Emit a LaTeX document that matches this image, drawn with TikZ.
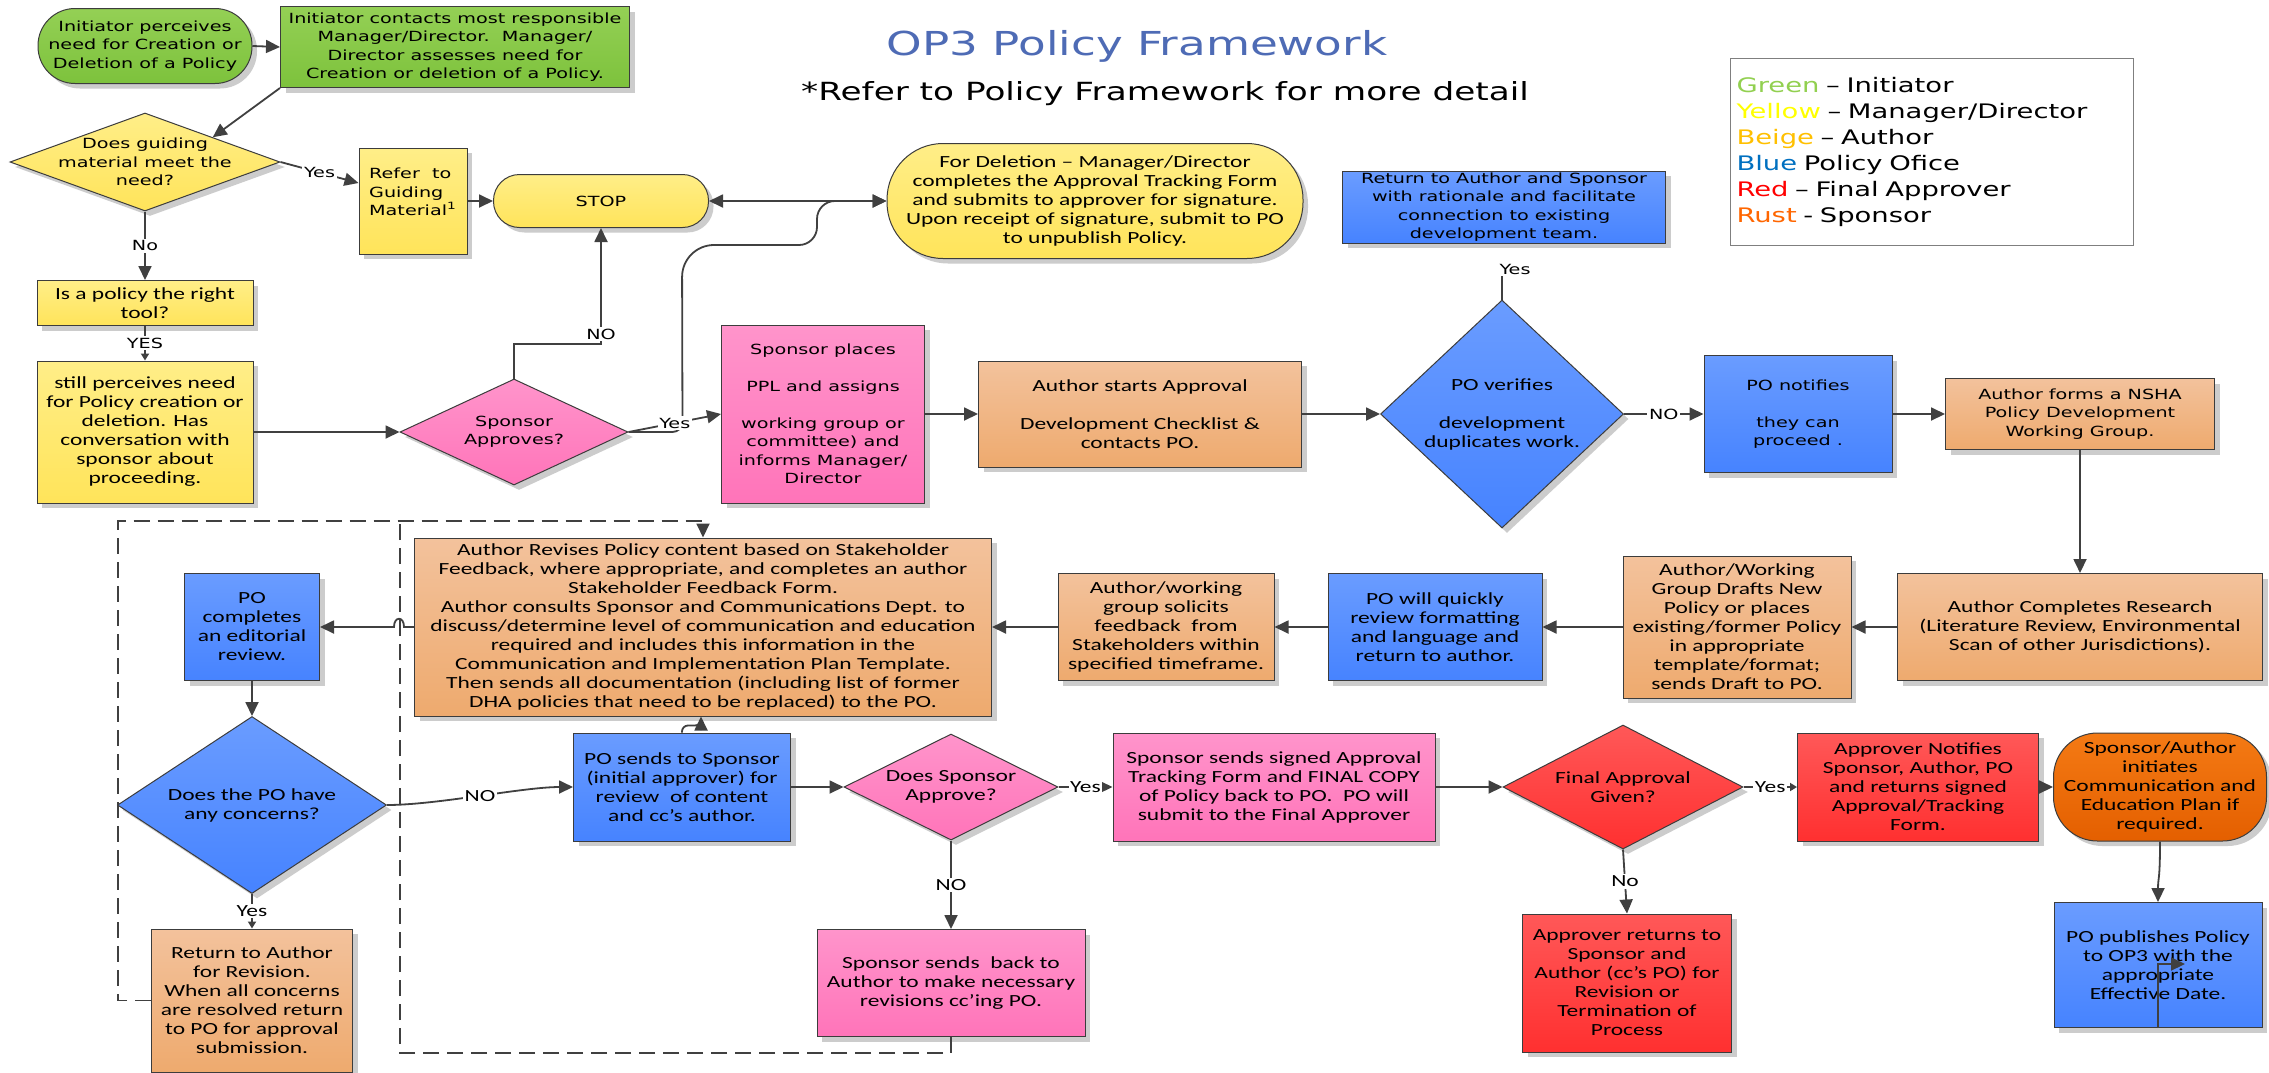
\documentclass[tikz,border=0pt]{standalone}
\usepackage{fontspec}
\newfontfamily\vfont{DejaVu Sans}[FakeStretch=1.37]
\newfontfamily\cfont{Carlito}[FakeStretch=1.38]
\usetikzlibrary{arrows.meta, calc, shapes.geometric, shadows}
\definecolor{EdgeGray}{HTML}{3C3C3C}
\definecolor{LineDark}{HTML}{404040}
\definecolor{LegendGray}{HTML}{7F7F7F}
\definecolor{TitleBlue}{HTML}{4E6BB5}
\definecolor{GreenTop}{HTML}{94D055}
\definecolor{GreenBot}{HTML}{7DC23C}
\definecolor{YellowTop}{HTML}{FFEE88}
\definecolor{YellowBot}{HTML}{FFE45A}
\definecolor{PinkTop}{HTML}{FF94CB}
\definecolor{PinkBot}{HTML}{FF74B9}
\definecolor{BeigeTop}{HTML}{F3C29C}
\definecolor{BeigeBot}{HTML}{EEAA6E}
\definecolor{BlueTop}{HTML}{6A9CFF}
\definecolor{BlueBot}{HTML}{4683FF}
\definecolor{RedTop}{HTML}{FF5858}
\definecolor{RedBot}{HTML}{FF3030}
\definecolor{RustTop}{HTML}{F47A14}
\definecolor{RustBot}{HTML}{E45F00}
\definecolor{LegGreen}{HTML}{92D050}
\definecolor{LegYellow}{HTML}{FFFF00}
\definecolor{LegBeige}{HTML}{FFC000}
\definecolor{LegBlue}{HTML}{0070C0}
\definecolor{LegRed}{HTML}{FF0000}
\definecolor{LegRust}{HTML}{FF6600}
\tikzset{
  shad/.style={drop shadow={shadow xshift=2.5pt, shadow yshift=-2.5pt, fill=black!20, opacity=1}},
  vtxt/.style={font=\vfont\fontsize{7}{9.2}\selectfont},
  ctxt/.style={font=\cfont\fontsize{8.5}{9.5}\selectfont},
  base/.style={draw=EdgeGray, line width=0.5pt, align=center, inner sep=1.5pt, shad},
  greenbox/.style={base, top color=GreenTop, bottom color=GreenBot},
  yellowbox/.style={base, top color=YellowTop, bottom color=YellowBot},
  pinkbox/.style={base, top color=PinkTop, bottom color=PinkBot},
  beigebox/.style={base, top color=BeigeTop, bottom color=BeigeBot},
  bluebox/.style={base, top color=BlueTop, bottom color=BlueBot},
  redbox/.style={base, top color=RedTop, bottom color=RedBot},
  rustbox/.style={base, top color=RustTop, bottom color=RustBot},
  decision/.style={diamond, inner sep=0pt},
  arrow/.style={-{Triangle[length=7pt, width=6.5pt]}, line width=0.9pt, draw=LineDark},
  smallarrow/.style={-{Triangle[length=3.5pt, width=4pt]}, line width=0.9pt, draw=LineDark},
  dasharrow/.style={arrow, dash pattern=on 8pt off 4pt},
  connector/.style={line width=0.9pt, draw=LineDark},
  vlabel/.style={vtxt, fill=white, inner sep=0.8pt},
  clabel/.style={ctxt, fill=white, inner sep=0.8pt}
}

\begin{document}
\begin{tikzpicture}[x=0.5pt, y=-0.5pt]
\fill[white] (0,0) rectangle (2269,1072);
\useasboundingbox (0,0) rectangle (2269,1072);

% title and legend
\node[anchor=base, text=TitleBlue, font=\vfont\fontsize{16.5}{20}\selectfont] (title) at (1137,55) {OP3 Policy Framework};
\node[anchor=base, font=\vfont\fontsize{12.5}{15}\selectfont] (subtitle) at (1165,100) {*Refer to Policy Framework for more detail};
\node[draw=LegendGray, line width=0.6pt, align=left, text width=195.5pt, minimum height=93.5pt, inner sep=3pt,
  font=\vfont\fontsize{10}{13}\selectfont] (legend) at (1932,152)
  {\textcolor{LegGreen}{Green} – Initiator\\\textcolor{LegYellow}{Yellow} – Manager/Director\\\textcolor{LegBeige}{Beige} – Author\\
   \textcolor{LegBlue}{Blue} Policy Ofice\\\textcolor{LegRed}{Red} – Final Approver\\\textcolor{LegRust}{Rust} - Sponsor};

% initiation
\node[greenbox, vtxt, rounded corners=18.5pt, minimum width=107pt, minimum height=37.5pt] (init) at (145,46)
  {Initiator perceives\\need for Creation or\\Deletion of a Policy};
\node[greenbox, vtxt, minimum width=174.5pt, minimum height=40.5pt] (contact) at (455,47)
  {Initiator contacts most responsible\\Manager/Director.\ \ Manager/\\Director assesses need for\\Creation or deletion of a Policy.};
\node[yellowbox, decision, minimum width=135pt, minimum height=49pt,
  label={[vtxt, align=center]center:{Does guiding\\material meet the\\need?}}] (guide) at (145,162) {};
\node[yellowbox, vtxt, align=left, minimum width=54pt, minimum height=53pt] (refer) at (413,201)
  {Refer\ \ to\\Guiding\\Material\textsuperscript{1}\\\mbox{}};
\node[yellowbox, vtxt, rounded corners=13pt, minimum width=107.5pt, minimum height=26.5pt] (stop) at (601,201) {STOP};
\node[yellowbox, ctxt, inner sep=1pt, minimum width=108pt, minimum height=22.5pt] (tool) at (145,303)
  {Is a policy the right\\tool?};
\node[yellowbox, ctxt, minimum width=108pt, minimum height=71pt] (still) at (145,432)
  {still perceives need\\for Policy creation or\\deletion. Has\\conversation with\\sponsor about\\proceeding.};
\node[pinkbox, decision, minimum width=114pt, minimum height=53pt,
  label={[vtxt, align=center]center:{Sponsor\\Approves?}}] (spapp) at (514,432) {};
\node[yellowbox, ctxt, rounded corners=28pt, minimum width=208pt, minimum height=57.5pt] (delete) at (1095,201)
  {For Deletion – Manager/Director\\completes the Approval Tracking Form\\and submits to approver for signature.\\Upon receipt of signature, submit to PO\\to unpublish Policy.};

% development
\node[pinkbox, vtxt, minimum width=101.5pt, minimum height=89pt] (places) at (823,414)
  {Sponsor places\\[9.2pt]PPL and assigns\\[9.2pt]working group or\\committee) and\\informs Manager/\\Director};
\node[beigebox, ctxt, minimum width=161.5pt, minimum height=53pt] (startappr) at (1140,414)
  {Author starts Approval\\[9.5pt]Development Checklist \&\\contacts PO.};
\node[bluebox, decision, minimum width=121.5pt, minimum height=114pt,
  label={[ctxt, align=center]center:{PO verifies\\[9.5pt]development\\duplicates work.}}] (poverify) at (1502,414) {};
\node[bluebox, vtxt, minimum width=161.5pt, minimum height=36pt, inner sep=0.5pt] (returnAS) at (1504,207)
  {Return to Author and Sponsor\\with rationale and facilitate\\connection to existing\\development team.};
\node[bluebox, vtxt, minimum width=94pt, minimum height=58.5pt] (notify) at (1798,414)
  {PO notifies\\[9.2pt]they can\\proceed .};
\node[beigebox, vtxt, minimum width=134.5pt, minimum height=35.5pt] (forms) at (2080,414)
  {Author forms a NSHA\\Policy Development\\Working Group.};
\node[beigebox, ctxt, minimum width=182.5pt, minimum height=53.5pt] (research) at (2080,627)
  {Author Completes Research\\(Literature Review, Environmental\\Scan of other Jurisdictions).};
\node[beigebox, ctxt, minimum width=114pt, minimum height=71pt] (drafts) at (1737,627)
  {Author/Working\\Group Drafts New\\Policy or places\\existing/former Policy\\in appropriate\\template/format;\\sends Draft to PO.};
\node[bluebox, ctxt, minimum width=107pt, minimum height=53.5pt] (quickly) at (1435,627)
  {PO will quickly\\review formatting\\and language and\\return to author.};
\node[beigebox, ctxt, minimum width=108pt, minimum height=53.5pt] (solicit) at (1166,627)
  {Author/working\\group solicits\\feedback\ \ from\\Stakeholders within\\specified timeframe.};
\node[beigebox, ctxt, minimum width=288.5pt, minimum height=89pt, inner sep=1pt] (revise) at (703,627)
  {Author Revises Policy content based on Stakeholder\\Feedback, where appropriate, and completes an author\\Stakeholder Feedback Form.\\
   Author consults Sponsor and Communications Dept. to\\discuss/determine level of communication and education\\required and includes this information in the\\
   Communication and Implementation Plan Template.\\Then sends all documentation (including list of former\\DHA policies that need to be replaced) to the PO.};

% review and approval
\node[bluebox, ctxt, minimum width=67.5pt, minimum height=53.5pt] (pocomplete) at (252,627)
  {PO\\completes\\an editorial\\review.};
\node[bluebox, decision, minimum width=134.5pt, minimum height=88.5pt,
  label={[ctxt, align=center]center:{Does the PO have\\any concerns?}}] (concerns) at (252,805) {};
\node[beigebox, ctxt, minimum width=100.5pt, minimum height=71.5pt] (retrev) at (252,1000.5)
  {Return to Author\\for Revision.\\When all concerns\\are resolved return\\to PO for approval\\submission.};
\node[bluebox, ctxt, minimum width=108.5pt, minimum height=54pt] (posends) at (682,787)
  {PO sends to Sponsor\\(initial approver) for\\review\ \ of content\\and cc’s author.};
\node[pinkbox, decision, minimum width=107pt, minimum height=53pt,
  label={[ctxt, align=center]center:{Does Sponsor\\Approve?}}] (dsa) at (951,787) {};
\node[pinkbox, ctxt, minimum width=134pt, minimum height=53.5pt] (sendsback) at (951,983)
  {Sponsor sends\ \ back to\\Author to make necessary\\revisions cc’ing PO.};
\node[pinkbox, ctxt, minimum width=161pt, minimum height=54pt] (signed) at (1274,787)
  {Sponsor sends signed Approval\\Tracking Form and FINAL COPY\\of Policy back to PO.\ \ PO will\\submit to the Final Approver};
\node[redbox, decision, minimum width=120pt, minimum height=62pt,
  label={[ctxt, align=center]center:{Final Approval\\Given?}}] (final) at (1623,787) {};
\node[redbox, ctxt, minimum width=120.5pt, minimum height=54pt] (notifies) at (1918,787)
  {Approver Notifies\\Sponsor, Author, PO\\and returns signed\\Approval/Tracking\\Form.};
\node[rustbox, ctxt, rounded corners=22pt, minimum width=106.5pt, minimum height=54pt] (sponauth) at (2160,787)
  {Sponsor/Author\\initiates\\Communication and\\Education Plan if\\required.};
\node[redbox, ctxt, minimum width=104.5pt, minimum height=69pt] (returns) at (1627,983)
  {Approver returns to\\Sponsor and\\Author (cc’s PO) for\\Revision or\\Termination of\\Process};
\node[bluebox, ctxt, minimum width=104pt, minimum height=62.5pt] (publishes) at (2158,965)
  {PO publishes Policy\\to OP3 with the\\appropriate\\Effective Date.};

% connectors, top part
\draw[arrow] (init.east) -- (contact.west);
\draw[arrow] (contact.south west) -- (guide.north east);
\draw[arrow] (guide.east) -- node[vlabel] (yes1) {Yes} ($(refer.west)+(0,-18)$);
\draw[arrow] (refer.east) -- (stop.west);
\draw[arrow] (guide.south) -- node[vlabel] (no1) {No} (tool.north);
\draw[smallarrow] (tool.south) -- node[vlabel] (yes2) {YES} (still.north);
\draw[arrow] (still.east) -- (spapp.west);
\draw[arrow] (spapp.north) |- ($(stop.south)+(0,116)$) -- (stop.south);
\node[vlabel] (no2) at ($(stop.south)+(0,106)$) {NO};
\draw[arrow] (spapp.east) [rounded corners=5pt] -- ($(spapp.east)+(54,0)$) [rounded corners=16pt] -- (682,245)
  [rounded corners=9pt] -- (817,245) -- (817,201) -- (delete.west);
\draw[arrow] (spapp.east) -- node[vlabel] (yes3) {Yes} (places.west);
\draw[{Triangle[length=7pt, width=6.5pt]}-{Triangle[length=7pt, width=6.5pt]}, connector] (stop.east) -- (delete.west);
\draw[arrow] (places.east) -- (startappr.west);
\draw[arrow] (startappr.east) -- (poverify.west);
\node[vtxt, inner sep=0.8pt] (yes4) at (1515,269) {Yes};
\draw[connector] (poverify.north) -- (poverify.north |- yes4.south);
\draw[arrow] (poverify.east) -- node[vlabel] (no3) {NO} (notify.west);
\draw[arrow] (notify.east) -- (forms.west);
\draw[arrow] (forms.south) -- (research.north);
\draw[arrow] (research.west) -- (drafts.east);
\draw[arrow] (drafts.west) -- (quickly.east);
\draw[arrow] (quickly.west) -- (solicit.east);
\draw[arrow] (solicit.west) -- (revise.east);
\draw[arrow] (revise.west) -- ++(-10,0) .. controls +(0,-11) and +(0,-11) .. ++(-10,0) -- (pocomplete.east);
\draw[arrow] (pocomplete.south) -- (concerns.north);

% connectors, bottom part
\draw[arrow] (concerns.east) .. controls +(50,0) and +(-50,0) .. node[clabel] (no4) {NO} (posends.west);
\draw[smallarrow] (concerns.south) -- node[clabel] (yes5) {Yes} (retrev.north);
\draw[arrow, rounded corners=3pt] (posends.north) |- ($(revise.south)+(-2,9)$) -- ($(revise.south)+(-2,0)$);
\draw[arrow] (posends.east) -- (dsa.west);
\draw[arrow] (dsa.east) -- node[clabel] (yes6) {Yes} (signed.west);
\draw[arrow] (dsa.south) -- node[clabel] (no5) {NO} (sendsback.north);
\draw[arrow] (signed.east) -- (final.west);
\draw[smallarrow] (final.east) -- node[clabel] (yes7) {Yes} (notifies.west);
\draw[arrow] (final.south) -- node[clabel] (no6) {No} (returns.north);
\draw[arrow] (notifies.east) -- (sponauth.west);
\draw[arrow] (sponauth.south) .. controls +(0,40) and +(0,-25) .. (publishes.north);
\draw[arrow] (publishes.south) |- ($(publishes.center)+(27,-1)$);

% dashed revision loops
\coordinate (dashtl) at (118,521);
\coordinate (dashbl) at (400,1053);
\draw[dasharrow] (retrev.west) -| (dashtl) -| (revise.north);
\draw[connector, dash pattern=on 8pt off 4pt] (sendsback.south) |- (dashbl) -- (dashbl |- dashtl);
\end{tikzpicture}
\end{document}
